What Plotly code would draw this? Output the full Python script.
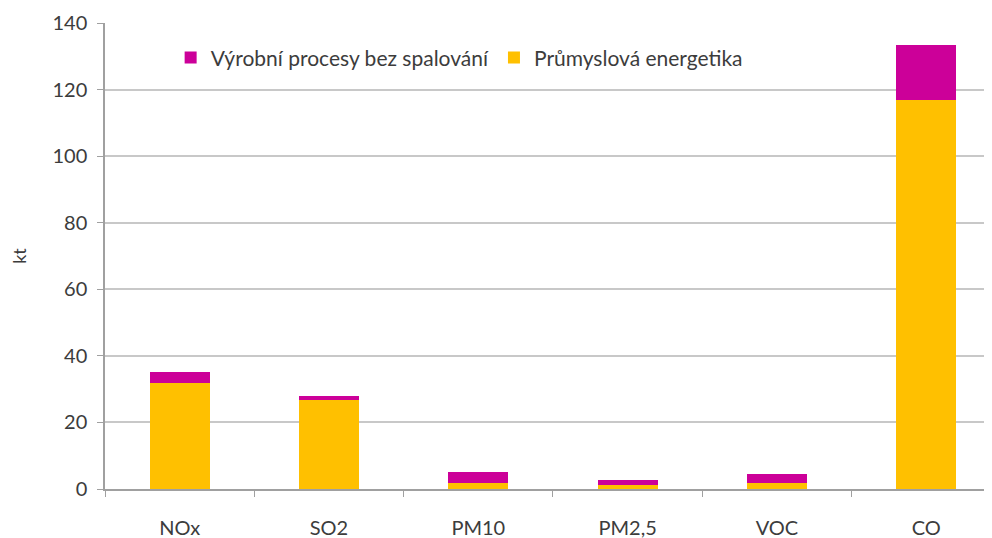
import plotly.graph_objects as go

categories = ["NOx", "SO2", "PM10", "PM2,5", "VOC", "CO"]
energetika = [31.7, 26.6, 1.9, 1.1, 1.8, 117.0]
vyrobni = [3.5, 1.3, 3.1, 1.6, 2.7, 16.3]
y_ticks = [0, 20, 40, 60, 80, 100, 120, 140]

txt = "#3c3c3c"

fig = go.Figure()
fig.add_trace(go.Bar(x=categories, y=energetika, name="Průmyslová energetika",
                     marker=dict(color="#FFC000", line=dict(width=0)), width=0.4))
fig.add_trace(go.Bar(x=categories, y=vyrobni, name="Výrobní procesy bez spalování",
                     marker=dict(color="#CC0099", line=dict(width=0)), width=0.4))

fig.update_layout(
    barmode="stack",
    width=992, height=538,
    margin=dict(l=97, r=8, t=15, b=57, autoexpand=False),
    paper_bgcolor="white", plot_bgcolor="white",
    font=dict(family="Lato", size=20, color=txt),
    showlegend=True,
    legend=dict(orientation="h", x=0.074, y=0.925, xanchor="left", yanchor="middle",
                traceorder="reversed", font=dict(size=21, color=txt),
                bgcolor="rgba(0,0,0,0)", itemwidth=30),
    xaxis=dict(range=[-0.5, 5.44], showline=True, linecolor="#a0a0a0", linewidth=1.5,
               ticks="outside", tickson="boundaries", ticklen=6, tickcolor="#a0a0a0",
               showgrid=False, ticklabelstandoff=20, automargin=False,
               tickfont=dict(size=20, color=txt)),
    yaxis=dict(range=[0, 140], tickvals=y_ticks, showline=True, linecolor="#a0a0a0",
               linewidth=1.5, ticks="outside", ticklen=6, tickcolor="#a0a0a0",
               showgrid=True, gridcolor="#c8c8c8", gridwidth=1.5, zeroline=False,
               ticklabelstandoff=6, automargin=False,
               title=dict(text="kt", font=dict(size=18, color=txt), standoff=26),
               tickfont=dict(size=20, color=txt)),
)

fig.write_html("out.html")
